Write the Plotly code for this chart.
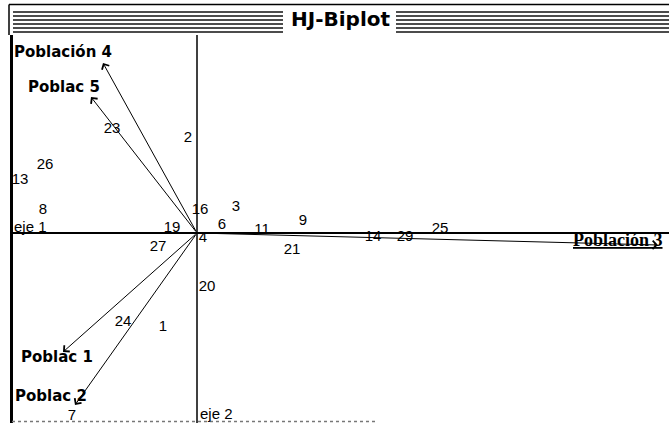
import plotly.graph_objects as go

# ---------------- data (biplot coordinates) ----------------
point_labels = ["1", "2", "3", "4", "6", "7", "8", "9", "11", "13", "14",
                "16", "19", "20", "21", "23", "24", "25", "26", "27", "29"]
point_x = [-0.34, -0.09, 0.39, 0.06, 0.25, -1.25, -1.54, 1.06, 0.65, -1.77, 1.76,
           0.03, -0.25, 0.10, 0.95, -0.85, -0.74, 2.43, -1.52, -0.39, 2.08]
point_y = [-0.94, 0.95, 0.26, -0.05, 0.08, -1.83, 0.23, 0.12, 0.03, 0.53, -0.04,
           0.23, 0.05, -0.54, -0.17, 1.04, -0.89, 0.04, 0.68, -0.14, -0.04]

var_names = ["Poblac 1", "Poblac 2", "Población 3", "Población 4", "Poblac 5"]
var_x = [-1.34, -1.22, 4.61, -0.94, -1.06]
var_y = [-1.19, -1.72, -0.12, 1.70, 1.36]

axis_names = ["eje 1", "eje 2"]
title_text = "HJ-Biplot"

# ---------------- layout helpers (pixels) ----------------
W, H = 669, 423
OX, OY, UNIT = 197, 233, 100.0


def px(xp):
    return xp / W


def py(yp):
    return 1 - yp / H


fig = go.Figure()

fig.add_trace(go.Scatter(
    x=point_x, y=point_y, mode="text", text=point_labels,
    textposition="middle center",
    textfont=dict(family="Liberation Sans", size=15, color="black"),
    hoverinfo="skip", showlegend=False, cliponaxis=False))

annotations = []
# arrows from origin to each variable
for vx, vy in zip(var_x, var_y):
    annotations.append(dict(
        x=vx, y=vy, ax=0, ay=0, xref="x", yref="y", axref="x", ayref="y",
        text="", showarrow=True, arrowhead=4, arrowsize=1.6, arrowwidth=1,
        arrowcolor="black", standoff=0, startstandoff=0))

# variable labels (offsets in pixels relative to arrow tips)
label_style = {
    "Poblac 1": dict(xshift=-44, yshift=-5),
    "Poblac 2": dict(xshift=-62, yshift=9),
    "Población 3": dict(xshift=-87, yshift=5),
    "Población 4": dict(xshift=-91, yshift=11),
    "Poblac 5": dict(xshift=-65, yshift=10),
}
for name, vx, vy in zip(var_names, var_x, var_y):
    st = label_style[name]
    if name == "Población 3":
        font = dict(family="Liberation Serif", size=18, color="black",
                    weight="bold", lineposition="under")
    else:
        font = dict(family="DejaVu Sans", size=15, color="black", weight="bold")
    annotations.append(dict(
        x=vx, y=vy, xref="x", yref="y", text=name, showarrow=False,
        xanchor="left", yanchor="middle", xshift=st["xshift"], yshift=st["yshift"],
        font=font))

# axis names
annotations.append(dict(x=px(12), y=py(226), xref="paper", yref="paper",
                        text=axis_names[0], showarrow=False, xanchor="left",
                        yanchor="middle",
                        font=dict(family="Liberation Sans", size=15, color="black")))
annotations.append(dict(x=0, y=py(413), xref="x", yref="paper",
                        text=axis_names[1], showarrow=False, xanchor="left",
                        yanchor="middle", xshift=1,
                        font=dict(family="Liberation Sans", size=15, color="black")))

# title
annotations.append(dict(x=px(340), y=py(19), xref="paper", yref="paper",
                        text=title_text, showarrow=False, xanchor="center",
                        yanchor="middle",
                        font=dict(family="DejaVu Sans", size=20, color="black",
                                  weight="bold")))

shapes = []
# title bar background
shapes.append(dict(type="rect", xref="paper", yref="paper", x0=0, x1=1,
                   y0=py(35), y1=1, fillcolor="white", line_width=0, layer="above"))
# title bar frame
shapes.append(dict(type="line", xref="paper", yref="paper", x0=px(9), x1=1,
                   y0=py(4.5), y1=py(4.5), line=dict(color="black", width=1.5),
                   layer="above"))
shapes.append(dict(type="line", xref="paper", yref="paper", x0=px(9), x1=px(9),
                   y0=py(4.5), y1=py(35), line=dict(color="black", width=1.5),
                   layer="above"))
for yy in [12, 16, 20, 24, 28, 32]:
    for (a, b) in [(13, 283), (396, 669)]:
        shapes.append(dict(type="line", xref="paper", yref="paper", x0=px(a), x1=px(b),
                           y0=py(yy), y1=py(yy), line=dict(color="#111", width=1.5),
                           layer="above"))
# plot left border
shapes.append(dict(type="line", xref="paper", yref="paper", x0=px(11.5), x1=px(11.5),
                   y0=py(35), y1=0, line=dict(color="black", width=3), layer="above"))
# axes through origin
shapes.append(dict(type="line", xref="paper", yref="y", x0=px(10), x1=1,
                   y0=0, y1=0, line=dict(color="black", width=2), layer="below"))
shapes.append(dict(type="line", xref="x", yref="paper", x0=0, x1=0,
                   y0=py(35), y1=0, line=dict(color="black", width=1.5), layer="below"))
# faint bottom edge
shapes.append(dict(type="line", xref="paper", yref="paper", x0=px(12), x1=px(378),
                   y0=py(421.5), y1=py(421.5),
                   line=dict(color="#777", width=1.5, dash="dot"), layer="above"))

fig.update_layout(
    width=W, height=H,
    margin=dict(l=0, r=0, t=0, b=0),
    paper_bgcolor="white", plot_bgcolor="white",
    xaxis=dict(range=[(0 - OX) / UNIT, (W - OX) / UNIT], domain=[0, 1],
               showgrid=False, zeroline=False, showticklabels=False, ticks="",
               fixedrange=True),
    yaxis=dict(range=[(OY - H) / UNIT, OY / UNIT], domain=[0, 1],
               showgrid=False, zeroline=False, showticklabels=False, ticks="",
               fixedrange=True),
    annotations=annotations,
    shapes=shapes,
    showlegend=False,
)

fig.write_html("out.html", config={"displayModeBar": False},
               post_script="document.body.style.margin='0';"
                           "document.body.style.overflow='hidden';")
